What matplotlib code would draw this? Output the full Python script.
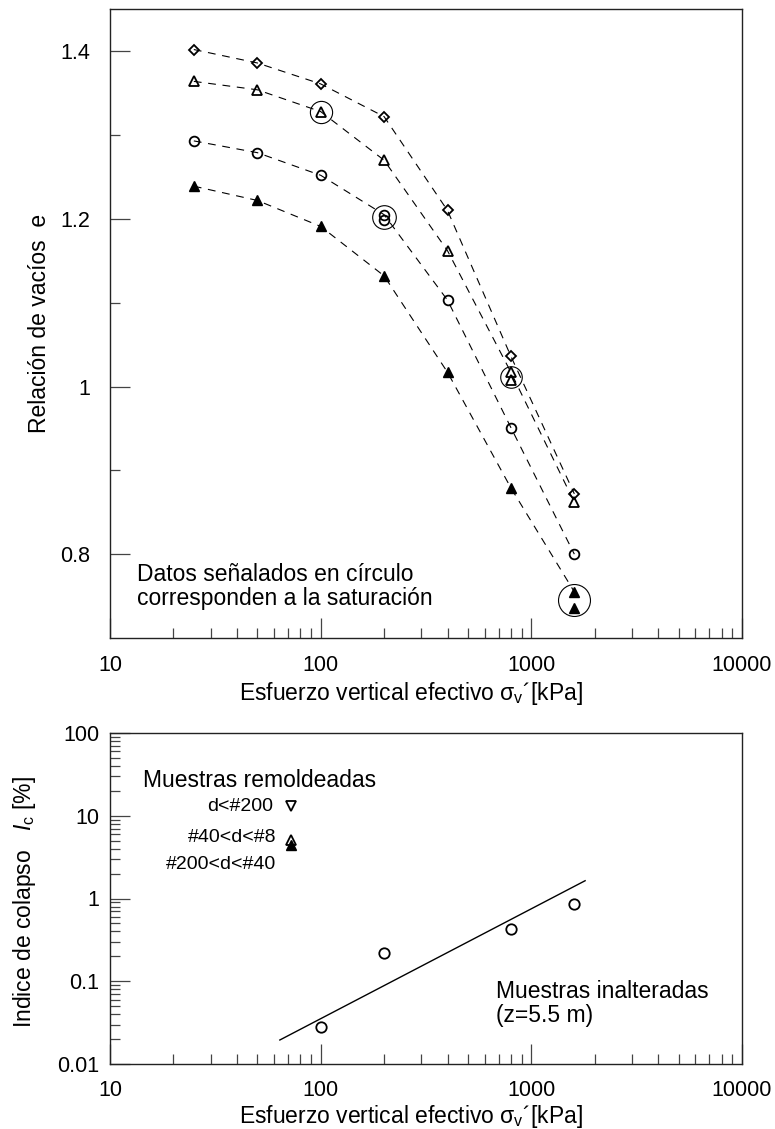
import numpy as np
import matplotlib
matplotlib.use('Agg')
import matplotlib.pyplot as plt
from matplotlib.ticker import FixedLocator, FuncFormatter, LogLocator, NullFormatter

plt.rcParams['font.family'] = ['Liberation Sans', 'DejaVu Sans']
plt.rcParams['mathtext.fontset'] = 'custom'
plt.rcParams['mathtext.rm'] = 'Liberation Sans'
plt.rcParams['mathtext.it'] = 'Liberation Sans:italic'

# --- curvas de compresibilidad (arriba) ---
sigma = [25, 50, 100, 200, 400, 800, 1600]
e_diamante = [1.402, 1.386, 1.361, 1.322, 1.210, 1.036, 0.872]
e_tri_abierto = [1.364, 1.354, 1.328, 1.270, 1.162, 1.017, 0.862]
e_circulo = [1.293, 1.279, 1.252, 1.205, 1.103, 0.951, 0.800]
e_tri_lleno = [1.239, 1.222, 1.191, 1.132, 1.017, 0.879, 0.755]

# puntos repetidos (saturacion)
extra_tri_abierto = ([800], [1.008])
extra_circulo = ([200], [1.199])
extra_tri_lleno = ([1600], [0.736])

# circulos que marcan la saturacion: x, e, tamano
sat_x = [100, 200, 800, 1600]
sat_e = [1.328, 1.202, 1.011, 0.745]
sat_ms = [16, 17, 15.5, 23]

# --- indice de colapso (abajo) ---
sig_inalt = [100, 200, 800, 1600]
ic_inalt = [0.028, 0.22, 0.43, 0.87]
ajuste_x = [64, 1800]
ajuste_y = [0.0195, 1.64]

sig_remold = 72
ic_d200 = 13.1
ic_40_8 = 5.1
ic_200_40 = 4.4

W, H = 775, 1129


def fx(x):
    return x / W


def fy(y):
    return 1 - y / H


fig = plt.figure(figsize=(W / 100, H / 100), dpi=100)
ax1 = fig.add_axes([fx(110), fy(638), fx(742) - fx(110), fy(9.3) - fy(638)])
ax2 = fig.add_axes([fx(110), fy(1064), fx(742) - fx(110), fy(733) - fy(1064)])

fmt = FuncFormatter(lambda v, _: f'{v:g}')

for ax in (ax1, ax2):
    ax.set_xscale('log')
    ax.set_xlim(10, 10000)
    ax.xaxis.set_major_locator(FixedLocator([10, 100, 1000, 10000]))
    ax.xaxis.set_minor_locator(LogLocator(base=10, subs=np.arange(2, 10)))
    ax.xaxis.set_major_formatter(fmt)
    ax.xaxis.set_minor_formatter(NullFormatter())
    ax.tick_params(which='both', direction='in', top=False, right=False,
                   color='#444444', width=0.9, labelsize=15.5)
    ax.tick_params(which='major', length=14.5)
    ax.tick_params(which='minor', length=7.2)
    for s in ax.spines.values():
        s.set_linewidth(1.0)
        s.set_color('#222222')

# ---------- grafica superior ----------
ax1.set_ylim(0.7, 1.45)
ax1.yaxis.set_major_locator(FixedLocator([0.8, 1.0, 1.2, 1.4]))
ax1.yaxis.set_minor_locator(FixedLocator([0.9, 1.1, 1.3]))
ax1.yaxis.set_major_formatter(fmt)
ax1.tick_params(axis='x', which='major', pad=12.5)
ax1.tick_params(axis='y', which='major', pad=14)

dash = dict(color='black', lw=0.8, dashes=(7, 6))
mk = dict(mfc='none', mec='black', mew=1.3, ls='none')

ax1.plot(sigma, e_diamante, **dash)
ax1.plot(sigma, e_tri_abierto, **dash)
ax1.plot(sigma, e_circulo, **dash)
ax1.plot(sigma, e_tri_lleno, **dash)

ax1.plot(sigma, e_diamante, marker='D', ms=5.5, **mk)
ax1.plot(sigma, e_tri_abierto, marker='^', ms=7, **mk)
ax1.plot(*extra_tri_abierto, marker='^', ms=7, **mk)
ax1.plot(sigma, e_circulo, marker='o', ms=7, **mk)
ax1.plot(*extra_circulo, marker='o', ms=7, **mk)
ax1.plot(sigma, e_tri_lleno, marker='^', ms=7.5, color='black', ls='none')
ax1.plot(*extra_tri_lleno, marker='^', ms=7.5, color='black', ls='none')

for x, e, m in zip(sat_x, sat_e, sat_ms):
    ax1.plot([x], [e], marker='o', ms=m, mfc='none', mec='black', mew=0.8, ls='none')

fig.text(fx(137), fy(580.7), 'Datos señalados en círculo', fontsize=16.5, va='baseline')
fig.text(fx(137), fy(605), 'corresponden a la saturación', fontsize=16.5, va='baseline')

fig.text(fx(40), fy(323), 'Relación de vacíos  e', fontsize=16.5, rotation=90,
         ha='center', va='center')
fig.text(fx(411), fy(700), 'Esfuerzo vertical efectivo σ$_{\\mathrm{v}}$´[kPa]',
         fontsize=16.5, ha='center', va='baseline')

# ---------- grafica inferior ----------
ax2.set_yscale('log')
ax2.set_ylim(0.01, 100)
ax2.yaxis.set_major_locator(FixedLocator([0.01, 0.1, 1, 10, 100]))
ax2.yaxis.set_minor_locator(LogLocator(base=10, subs=np.arange(2, 10)))
ax2.yaxis.set_major_formatter(fmt)
ax2.yaxis.set_minor_formatter(NullFormatter())
ax2.tick_params(axis='x', which='major', pad=11.5)
ax2.tick_params(axis='y', which='major', pad=7.5)

ax2.plot(ajuste_x, ajuste_y, color='black', lw=1.0)
ax2.plot(sig_inalt, ic_inalt, marker='o', ms=7.5, **mk)
ax2.plot([sig_remold], [ic_d200], marker='v', ms=6.5, **mk)
ax2.plot([sig_remold], [ic_40_8], marker='^', ms=6.5, **mk)
ax2.plot([sig_remold], [ic_200_40], marker='^', ms=6.5, color='black', ls='none')

fig.text(fx(143), fy(786.7), 'Muestras remoldeadas', fontsize=16.5, va='baseline')
fig.text(fx(273), fy(810.7), 'd<#200', fontsize=14, ha='right', va='baseline')
fig.text(fx(276), fy(841.7), '#40<d<#8', fontsize=14, ha='right', va='baseline')
fig.text(fx(276), fy(869.3), '#200<d<#40', fontsize=14, ha='right', va='baseline')
fig.text(fx(496), fy(998), 'Muestras inalteradas', fontsize=16.5, va='baseline')
fig.text(fx(496), fy(1021.7), '(z=5.5 m)', fontsize=16.5, va='baseline')

fig.text(fx(25), fy(902), 'Indice de colapso   $\\mathit{I}_{\\mathrm{c}}$ [%]', fontsize=16.5,
         rotation=90, ha='center', va='center')
fig.text(fx(411), fy(1123), 'Esfuerzo vertical efectivo σ$_{\\mathrm{v}}$´[kPa]',
         fontsize=16.5, ha='center', va='baseline')

fig.savefig('out.png', dpi=100)
